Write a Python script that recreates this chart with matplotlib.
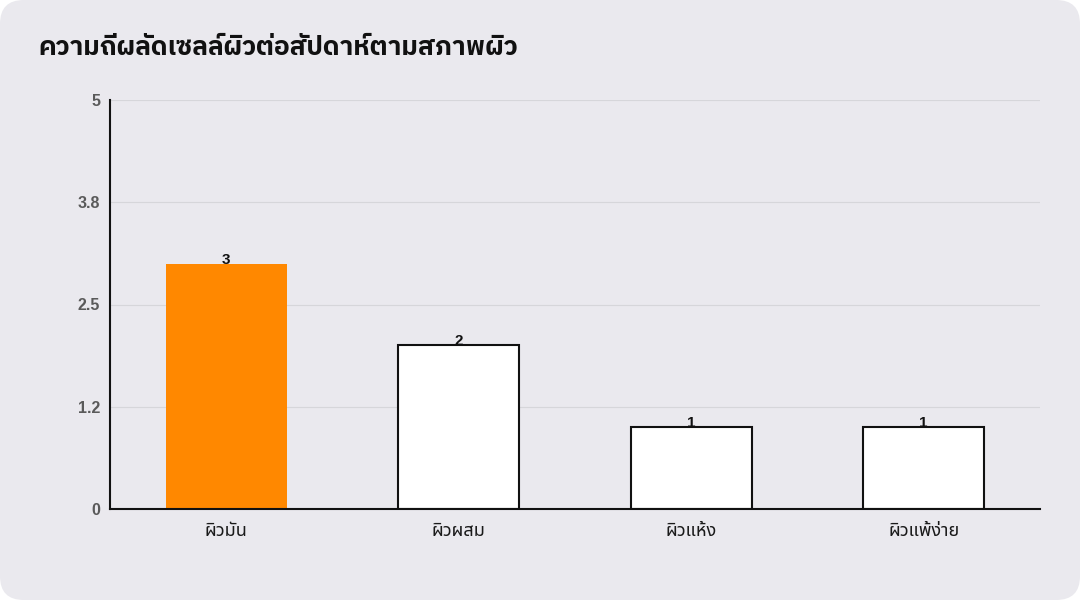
import matplotlib
matplotlib.use("Agg")
import matplotlib.pyplot as plt
from matplotlib.patches import FancyBboxPatch
from matplotlib.ticker import FixedLocator, FixedFormatter

categories = ["ผิวมัน", "ผิวผสม", "ผิวแห้ง", "ผิวแพ้ง่าย"]
values = [3, 2, 1, 1]
bar_colors = ["#FF8800", "#FFFFFF", "#FFFFFF", "#FFFFFF"]
edge_colors = ["none", "#111111", "#111111", "#111111"]
y_ticks = [0, 1.25, 2.5, 3.75, 5]
y_tick_labels = ["0", "1.2", "2.5", "3.8", "5"]
title = "ความถี่ผลัดเซลล์ผิวต่อสัปดาห์ตามสภาพผิว"

plt.rcParams['font.family'] = ["Liberation Sans", "Noto Sans Thai", "DejaVu Sans"]

BG = "#EAE9EE"
fig = plt.figure(figsize=(10.8, 6.0), dpi=100)
fig.patch.set_facecolor("white")
bg = FancyBboxPatch((0, 0), 1, 1, boxstyle="round,pad=0,rounding_size=0.022",
                    transform=fig.transFigure, facecolor=BG, edgecolor="none",
                    mutation_aspect=1.8, zorder=-10)
fig.patches.append(bg)

ax = fig.add_axes([110/1080, (600-509)/600, 930/1080, 409/600])
ax.set_facecolor(BG)
x = list(range(len(categories)))
ax.bar(x, values, width=0.52, color=bar_colors, edgecolor=edge_colors,
       linewidth=1.5, zorder=3)
for xi, v in zip(x, values):
    ax.text(xi, v, str(v), ha="center", va="baseline", fontsize=11,
            fontweight="bold", color="#111111", zorder=4)
ax.set_xlim(-0.5, 3.5)
ax.set_ylim(0, 5)
ax.yaxis.set_major_locator(FixedLocator(y_ticks))
ax.yaxis.set_major_formatter(FixedFormatter(y_tick_labels))
ax.set_xticks(x)
ax.set_xticklabels(categories, fontsize=13, color="#1A1A1A",
                   family=["Noto Sans Thai", "DejaVu Sans"])
ax.tick_params(axis="y", length=0, labelsize=11.5, labelcolor="#555555", pad=7)
for lbl in ax.get_yticklabels():
    lbl.set_fontweight("bold")
    lbl.set_color("#5A5A5A")
ax.tick_params(axis="x", length=0, pad=9)
ax.grid(axis="y", color="#D6D6DA", linewidth=0.8, zorder=0)
for s in ["top", "right"]:
    ax.spines[s].set_visible(False)
for s in ["left", "bottom"]:
    ax.spines[s].set_color("#111111")
    ax.spines[s].set_linewidth(1.5)
    ax.spines[s].set_zorder(5)

fig.text(38/1080, 1 - 48/600, title, fontsize=19, fontweight="bold",
         color="#111111", ha="left", va="center",
         family=["IBM Plex Sans Thai", "DejaVu Sans"])

fig.savefig("out.png", dpi=100, facecolor=fig.get_facecolor())
